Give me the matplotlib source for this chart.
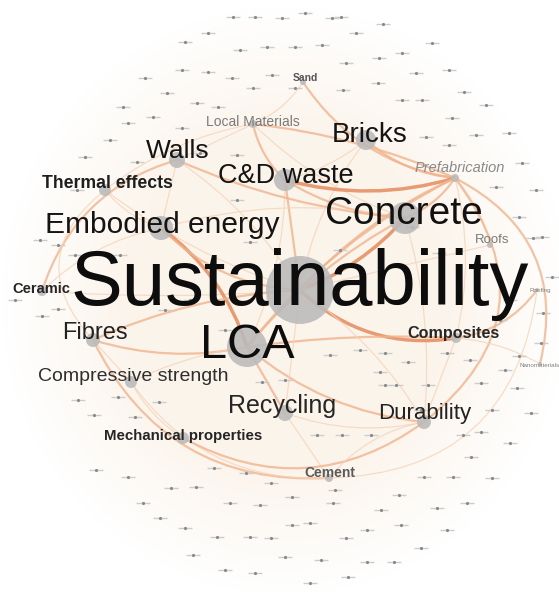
import numpy as np
import matplotlib.pyplot as plt
from matplotlib.patches import Circle, PathPatch
from matplotlib.path import Path

plt.rcParams['font.family'] = ['Liberation Sans', 'DejaVu Sans']

W, H = 559, 592

# keyword map layout (pixel space, y downwards)
keywords = ["Sustainability", "LCA", "Concrete", "Embodied energy", "Bricks",
            "C&D waste", "Walls", "Thermal effects", "Fibres", "Compressive strength",
            "Recycling", "Durability", "Mechanical properties", "Cement", "Composites",
            "Ceramic", "Local Materials", "Prefabrication", "Roofs", "Sand",
            "Roofing", "Nanomaterials"]
node_x = [300, 247, 405, 161, 366, 285, 177, 105, 93, 131,
          285, 424, 183, 329, 456, 42, 253, 455, 490, 303,
          537, 540]
node_y = [290, 347, 218, 228, 140, 180, 160, 190, 340, 382,
          413, 422, 438, 478, 338, 291, 124, 178, 245, 82,
          290, 364]
# node size ~ occurrences
node_r = [34, 20, 16, 12, 10, 11, 8, 6, 7, 6,
          8, 7, 6, 4, 5, 5, 4, 4, 3, 3,
          2, 2]
label_x = [300, 247, 404, 162, 370, 286, 178, 107, 95, 133,
           282, 425, 183, 330, 453, 41, 253, 460, 492, 305,
           540, 540]
label_y = [305, 358, 224, 233, 142, 183, 158, 188, 339, 381,
           413, 419, 440, 477, 338, 293, 126, 172, 243, 81,
           292, 367]
label_pt = [56, 35, 28, 21.5, 20, 19.5, 19, 12.7, 17, 14,
            18, 16, 10.8, 10, 11.6, 10.5, 10, 10.5, 9.5, 7.5,
            4.5, 4.5]
label_bold = [False, False, False, False, False, False, False, True, False, False,
              False, False, True, True, True, True, False, False, False, True,
              False, False]
label_color = ["#0d0d0d", "#0d0d0d", "#111111", "#141414", "#141414", "#141414",
               "#141414", "#1e1e1e", "#222222", "#2e2e2e", "#262626", "#222222",
               "#252525", "#5a5a5a", "#262626", "#262626", "#7a7a7a", "#8a8a8a",
               "#7a7a7a", "#555555", "#808080", "#808080"]

# links: (from, to, strength, bend of curve midpoint in px, + = right of travel)
links = [
    ("Sand", "Prefabrication", 2, 20),
    ("Sand", "Local Materials", 1, -5),
    ("Local Materials", "Prefabrication", 2, -8),
    ("Local Materials", "C&D waste", 2, 5),
    ("Local Materials", "Concrete", 1, 10),
    ("Local Materials", "Thermal effects", 1, 10),
    ("Local Materials", "Walls", 1, 0),
    ("Bricks", "Prefabrication", 2, 8),
    ("Bricks", "C&D waste", 1, -5),
    ("Bricks", "Sustainability", 1, 10),
    ("C&D waste", "Prefabrication", 3, 12),
    ("C&D waste", "Sustainability", 2, 0),
    ("C&D waste", "LCA", 1, -10),
    ("C&D waste", "Concrete", 2, 8),
    ("Walls", "Concrete", 2, 10),
    ("Walls", "Sustainability", 1, -10),
    ("Walls", "Embodied energy", 1, 0),
    ("Thermal effects", "Embodied energy", 1, 5),
    ("Thermal effects", "Sustainability", 1, 10),
    ("Ceramic", "Walls", 2, -25),
    ("Ceramic", "Embodied energy", 1, -10),
    ("Ceramic", "Sustainability", 1, 5),
    ("Embodied energy", "LCA", 3, -12),
    ("Embodied energy", "Sustainability", 2, 15),
    ("Embodied energy", "Concrete", 1, -15),
    ("Concrete", "Prefabrication", 2, 5),
    ("Concrete", "Sustainability", 3, -8),
    ("Concrete", "LCA", 2, 10),
    ("Concrete", "Durability", 1, -10),
    ("Prefabrication", "Sustainability", 2, 10),
    ("Prefabrication", "LCA", 2, 15),
    ("Prefabrication", "Roofs", 1, -5),
    ("Prefabrication", "Composites", 1, -10),
    ("Prefabrication", "Nanomaterials", 2, -40),
    ("Durability", "Prefabrication", 2, 60),
    ("Roofing", "Composites", 2, -10),
    ("Sustainability", "Composites", 3, 20),
    ("LCA", "Composites", 2, -5),
    ("LCA", "Recycling", 2, 0),
    ("LCA", "Durability", 2, 15),
    ("Recycling", "Cement", 1, 0),
    ("Recycling", "Durability", 1, 10),
    ("Fibres", "Sustainability", 2, -10),
    ("Fibres", "LCA", 2, 10),
    ("Fibres", "Compressive strength", 1, 0),
    ("Fibres", "Cement", 2, 45),
    ("Compressive strength", "Mechanical properties", 1, 5),
    ("Compressive strength", "Cement", 1, 30),
    ("Compressive strength", "LCA", 1, -5),
    ("Mechanical properties", "Durability", 2, 38),
    ("Composites", "Durability", 1, 0),
    ("Nanomaterials", "Composites", 1, 5),
    ("Sustainability", "Recycling", 1, 0),
    ("Sustainability", "Durability", 1, -10),
    ("Cement", "Durability", 1, -10),
    ("Roofs", "Sustainability", 1, 0),
    ("Roofing", "Cement", 1, -60),
    ("Thermal effects", "Fibres", 1, 40),
]

# minor keywords (unlabelled at this zoom level)
minor_x = [233, 255, 282, 305, 332, 341, 383, 208, 185, 240, 267, 295, 322, 356, 432,
           182, 208, 232, 272, 145, 167, 253, 295, 343, 378, 379, 402, 346, 416, 449,
           464, 402, 422, 486, 452, 509, 476, 449, 426, 123, 153, 128, 197, 218, 182,
           110, 85, 137, 200, 237, 522, 496, 536,
           77, 58, 237, 519, 542, 439, 412, 533, 552, 543, 541, 519, 42, 58, 15, 40,
           75, 120, 250, 340, 190, 165, 135, 225, 330, 360, 380, 510, 500, 470, 505,
           78, 94, 118, 135, 159, 262, 285, 385, 408, 385, 428, 481, 492, 531, 463,
           481, 471, 510, 424, 453, 492, 399, 381, 437, 467, 367, 401, 447, 421, 367,
           394, 321, 348, 285, 310, 292, 310, 333, 292, 335, 346, 255, 225, 193, 217,
           250, 271, 171, 196, 230, 260, 214, 246, 271, 185, 160, 143, 128, 96, 421,
           371, 342, 317, 396, 447, 517]
minor_y = [17, 17, 18, 13, 18, 17, 24, 33, 42, 50, 47, 47, 45, 33, 43,
           70, 72, 78, 75, 78, 93, 88, 88, 90, 83, 58, 53, 63, 73, 70,
           92, 100, 100, 105, 118, 133, 135, 145, 137, 107, 117, 123, 103, 107, 128,
           140, 157, 162, 153, 155, 163, 187, 190,
           190, 245, 200, 217, 237, 253, 227, 238, 277, 313, 343, 356, 316, 309, 300, 240,
           255, 255, 242, 250, 300, 310, 300, 330, 355, 350, 372, 300, 320, 360, 370,
           400, 415, 397, 417, 402, 382, 380, 353, 362, 385, 385, 383, 410, 413, 435,
           432, 457, 443, 477, 477, 478, 495, 510, 508, 503, 530, 525, 530, 548, 562,
           562, 560, 577, 557, 583, 525, 523, 503, 497, 490, 538, 573, 570, 555, 537,
           537, 538, 488, 487, 503, 505, 468, 473, 483, 528, 518, 503, 477, 470, 410,
           435, 435, 435, 385, 353, 388]

link_style = {1: (0.9, "#f5d3b7", 0.75),
              2: (1.6, "#f0b48d", 0.8),
              3: (2.5, "#e58b5e", 0.85)}

fig = plt.figure(figsize=(W / 100, H / 100), dpi=100)
ax = fig.add_axes([0, 0, 1, 1])
ax.set_xlim(0, W)
ax.set_ylim(H, 0)
ax.axis("off")

# warm density haze behind the map
yy, xx = np.mgrid[0:H, 0:W]
rr = np.hypot((xx - 285) / 285, (yy - 300) / 295)
haze = np.zeros((H, W, 4))
haze[..., :3] = (0.975, 0.915, 0.85)
haze[..., 3] = np.clip((1.0 - rr) / 0.45, 0, 1) * 0.5
ax.imshow(haze, extent=(0, W, H, 0), aspect="auto", zorder=0)

pos = {k: (x, y) for k, x, y in zip(keywords, node_x, node_y)}

for a, b, s, bend in links:
    (x1, y1), (x2, y2) = pos[a], pos[b]
    dx, dy = x2 - x1, y2 - y1
    L = np.hypot(dx, dy)
    nx, ny = -dy / L, dx / L
    cx = (x1 + x2) / 2 + 2 * bend * nx
    cy = (y1 + y2) / 2 + 2 * bend * ny
    lw, col, al = link_style[s]
    path = Path([(x1, y1), (cx, cy), (x2, y2)], [Path.MOVETO, Path.CURVE3, Path.CURVE3])
    ax.add_patch(PathPatch(path, fc="none", ec=col, lw=lw, alpha=al, zorder=1,
                           capstyle="round"))

# minor keywords: dot plus illegible label stub
ax.plot(minor_x, minor_y, ls="none", marker="_", ms=10, mew=1.0, color="#cdcdcd", zorder=2)
ax.plot(minor_x, minor_y, ls="none", marker="o", ms=2.3, mew=0, color="#8a8a8a", zorder=2)

for k, x, y, r in zip(keywords, node_x, node_y, node_r):
    ax.add_patch(Circle((x, y), r, fc="#bababa", ec="none", alpha=0.88, zorder=3))

for k, x, y, pt, bold, col in zip(keywords, label_x, label_y, label_pt, label_bold, label_color):
    ax.text(x, y, k, ha="center", va="baseline", fontsize=pt, color=col,
            fontweight="bold" if bold else "normal",
            fontstyle="italic" if k == "Prefabrication" else "normal", zorder=5)

fig.savefig("out.png", dpi=100, facecolor="white")
